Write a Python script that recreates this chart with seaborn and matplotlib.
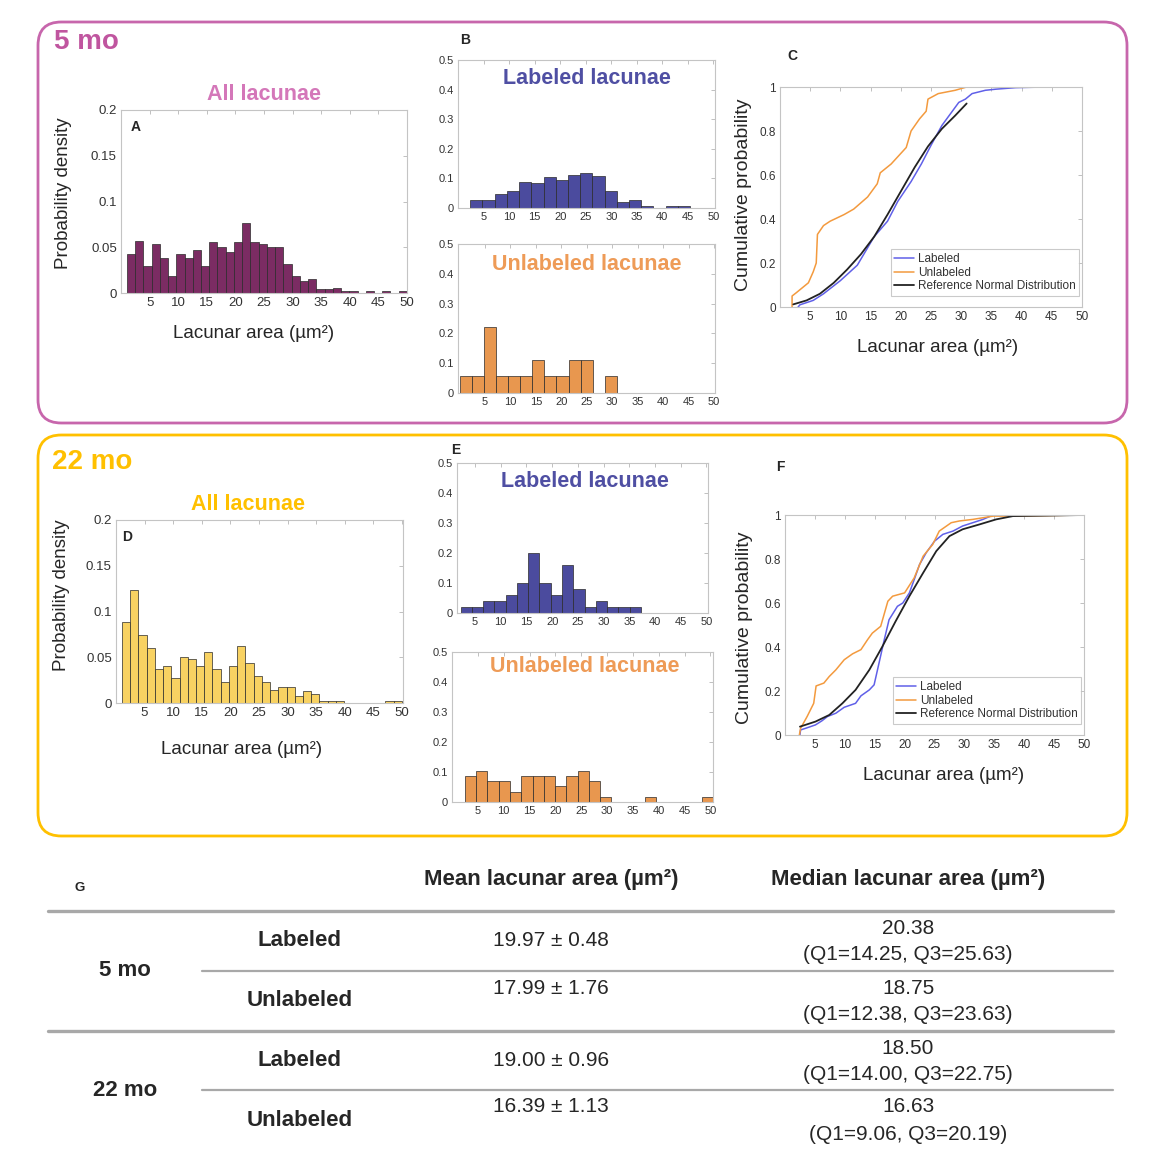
import numpy as np
import matplotlib
matplotlib.use("Agg")
import matplotlib.pyplot as plt
import seaborn as sns
from matplotlib.patches import FancyBboxPatch
from matplotlib.lines import Line2D

# ---- histogram heights (fraction per bin) ----
all_5mo = [0.043, 0.057, 0.030, 0.054, 0.038, 0.019, 0.043, 0.038, 0.047, 0.030,
           0.056, 0.050, 0.045, 0.056, 0.076, 0.056, 0.054, 0.050, 0.050, 0.032,
           0.019, 0.013, 0.015, 0.004, 0.004, 0.006, 0.002, 0.002, 0, 0.002,
           0, 0.002, 0, 0.002]
lab_5mo = [0.026, 0.026, 0.048, 0.056, 0.089, 0.083, 0.106, 0.094, 0.113, 0.119,
           0.109, 0.059, 0.020, 0.026, 0.006, 0, 0.006, 0.006]
unlab_5mo = [0.056, 0.056, 0.222, 0.056, 0.056, 0.056, 0.111, 0.056, 0.056, 0.111,
             0.111, 0, 0.056]
all_22mo = [0.088, 0.124, 0.074, 0.060, 0.037, 0.040, 0.027, 0.050, 0.048, 0.040,
            0.056, 0.037, 0.023, 0.040, 0.062, 0.044, 0.029, 0.023, 0.014, 0.018,
            0.017, 0.008, 0.013, 0.010, 0.002, 0.002, 0.002, 0, 0, 0,
            0, 0, 0.002, 0.002]
lab_22mo = [0.02, 0.02, 0.04, 0.04, 0.06, 0.10, 0.20, 0.10, 0.06, 0.16,
            0.08, 0.02, 0.04, 0.02, 0.02, 0.02]
unlab_22mo = [0.088, 0.105, 0.070, 0.070, 0.035, 0.088, 0.088, 0.088, 0.053, 0.088,
              0.105, 0.070, 0.018, 0, 0, 0, 0.018, 0, 0, 0, 0, 0.018]

# ---- cumulative curves (x = area, y = cumulative probability) ----
c5_lab_x = [3.0, 3.3, 5.5, 7.2, 10.0, 12.8, 15.6, 17.8, 19.5, 21.7, 23.4, 25.1, 26.8,
            28.4, 29.6, 30.7, 31.8, 34.0, 35.7, 39.0, 43.8]
c5_lab_y = [0.0, 0.01, 0.03, 0.06, 0.12, 0.19, 0.32, 0.39, 0.48, 0.57, 0.65, 0.74, 0.825,
            0.885, 0.93, 0.945, 0.97, 0.985, 0.99, 0.997, 1.0]
c5_unl_x = [2.0, 2.0, 2.7, 4.7, 5.5, 6.0, 6.2, 7.2, 8.3, 10.6, 12.2, 14.5, 16.1, 16.6,
            18.4, 20.9, 21.7, 23.1, 24.2, 24.5, 26.2, 29.0, 30.9]
c5_unl_y = [0.0, 0.05, 0.065, 0.11, 0.16, 0.2, 0.33, 0.37, 0.39, 0.42, 0.445, 0.5, 0.56,
            0.61, 0.65, 0.725, 0.8, 0.855, 0.89, 0.945, 0.97, 0.985, 1.0]
c5_ref_x = [2.2, 4.4, 6.6, 8.9, 11.1, 13.4, 15.6, 17.8, 20.1, 22.3, 24.5, 26.8, 29.0, 30.9]
c5_ref_y = [0.012, 0.03, 0.06, 0.11, 0.17, 0.24, 0.32, 0.42, 0.53, 0.635, 0.73, 0.81,
            0.87, 0.925]

c22_lab_x = [2.5, 2.6, 3.4, 5.1, 6.2, 7.1, 8.5, 9.9, 11.8, 12.7, 14.1, 14.9, 15.5, 16.6,
             17.4, 18.8, 19.7, 20.8, 21.6, 22.5, 23.6, 25.0, 26.4, 28.1, 29.7, 31.4,
             33.1, 34.8]
c22_lab_y = [0.0, 0.023, 0.03, 0.046, 0.065, 0.084, 0.099, 0.126, 0.144, 0.178, 0.205,
             0.228, 0.30, 0.433, 0.524, 0.585, 0.60, 0.646, 0.706, 0.775, 0.828, 0.881,
             0.912, 0.927, 0.95, 0.965, 0.98, 1.0]
c22_unl_x = [2.4, 2.6, 3.7, 4.8, 5.2, 6.5, 7.4, 8.5, 9.9, 11.3, 12.7, 13.8, 14.6, 16.0,
             17.2, 18.0, 20.0, 21.6, 23.1, 24.7, 25.8, 27.8, 29.2, 31.4, 34.8, 38.1, 50.0]
c22_unl_y = [0.0, 0.03, 0.084, 0.144, 0.223, 0.236, 0.266, 0.296, 0.342, 0.369, 0.388,
             0.433, 0.463, 0.494, 0.608, 0.631, 0.646, 0.714, 0.813, 0.866, 0.927,
             0.965, 0.973, 0.98, 0.995, 0.995, 1.0]
c22_ref_x = [2.5, 5.1, 7.4, 9.6, 11.8, 14.1, 16.3, 18.5, 20.8, 23.1, 25.3, 27.5, 29.7,
             32.5, 35.3, 38.1, 50.0]
c22_ref_y = [0.038, 0.061, 0.091, 0.144, 0.205, 0.296, 0.403, 0.517, 0.631, 0.737,
             0.836, 0.904, 0.935, 0.957, 0.98, 0.995, 1.0]

# ---- table G ----
groups = ["5 mo", "22 mo"]
kinds = ["Labeled", "Unlabeled"]
means = [19.97, 17.99, 19.00, 16.39]
sems = [0.48, 1.76, 0.96, 1.13]
medians = [20.38, 18.75, 18.50, 16.63]
q1s = [14.25, 12.38, 14.00, 9.06]
q3s = [25.63, 23.63, 22.75, 20.19]

W, H = 1164, 1167
sns.set_theme(style="white")
plt.rcParams["font.family"] = ["Liberation Sans", "DejaVu Sans"]

fig = plt.figure(figsize=(W / 100, H / 100), dpi=100)
fig.patch.set_facecolor("white")


def px(x, y):
    return x / W, 1 - y / H


def add_axes(left, top, right, bottom):
    return fig.add_axes([left / W, 1 - bottom / H, (right - left) / W, (bottom - top) / H])


def hist(ax, heights, start, width, color):
    edges = start + width * np.arange(len(heights) + 1)
    centers = (edges[:-1] + edges[1:]) / 2
    sns.histplot(x=list(centers), weights=list(heights), bins=edges.tolist(), ax=ax,
                 color=color, edgecolor="#2a2a2a", linewidth=0.5, alpha=1)


def style(ax, xlim, ylim, yticks, ylabels, size):
    ax.set_xlim(xlim)
    ax.set_ylim(ylim)
    ax.set_xticks(range(5, 51, 5))
    ax.set_yticks(yticks)
    ax.set_yticklabels(ylabels)
    ax.tick_params(direction="in", length=3, width=0.6, color="#b5b5b5", labelsize=size,
                   labelcolor="#333333", top=True, right=True, pad=3)
    for s in ax.spines.values():
        s.set_visible(True)
        s.set_color("#c4c4c4")
        s.set_linewidth(0.8)
    ax.set_xlabel("")
    ax.set_ylabel("")


def text(x, y, s, **kw):
    fig.text(*px(x, y), s, **kw)


# ---- group boxes ----
for top, col, lab in [(22, "#C766AC", "5 mo"), (435, "#FFC000", "22 mo")]:
    box = FancyBboxPatch(px(38, top + 401), 1089 / W, 401 / H,
                         boxstyle="round,pad=0,rounding_size=0.02",
                         transform=fig.transFigure, fill=False, edgecolor=col, linewidth=2)
    fig.add_artist(box)
text(54, 42, "5 mo", color="#C0559F", fontsize=20, fontweight="bold", va="center")
text(52, 462, "22 mo", color="#FFC000", fontsize=20, fontweight="bold", va="center")

dens_ticks = [0, 0.05, 0.1, 0.15, 0.2]
dens_labels = ["0", "0.05", "0.1", "0.15", "0.2"]
prob_ticks = [0, 0.1, 0.2, 0.3, 0.4, 0.5]
prob_labels = ["0", "0.1", "0.2", "0.3", "0.4", "0.5"]
cum_ticks = [0, 0.2, 0.4, 0.6, 0.8, 1]
cum_labels = ["0", "0.2", "0.4", "0.6", "0.8", "1"]
area_label = "Lacunar area (µm²)"

# ---- A ----
axA = add_axes(121, 110, 407, 293)
hist(axA, all_5mo, 1.03, 1.44, "#7B2C63")
style(axA, (0, 50), (0, 0.2), dens_ticks, dens_labels, 9.5)
text(264, 95, "All lacunae", color="#D477B9", fontsize=15.5, fontweight="bold", ha="center", va="center")
text(131, 127, "A", fontsize=10, fontweight="bold", va="center")
text(63, 193, "Probability density", fontsize=13.5, rotation=90, ha="center", va="center")
text(254, 333, area_label, fontsize=13.5, ha="center", va="center")

# ---- B ----
axB1 = add_axes(458, 60, 715, 208)
hist(axB1, lab_5mo, 2.4, 2.39, "#4B4B9E")
style(axB1, (0, 50.3), (0, 0.5), prob_ticks, prob_labels, 8)
axB2 = add_axes(458, 244, 715, 393)
hist(axB2, unlab_5mo, 0.0, 2.38, "#E8974F")
style(axB2, (-0.3, 50.2), (0, 0.5), prob_ticks, prob_labels, 8)
text(587, 78, "Labeled lacunae", color="#4F4FA3", fontsize=15.5, fontweight="bold", ha="center", va="center")
text(587, 264, "Unlabeled lacunae", color="#EE9B57", fontsize=15.5, fontweight="bold", ha="center", va="center")
text(460, 40, "B", fontsize=10, fontweight="bold", va="center")

# ---- D ----
axD = add_axes(116, 520, 403, 703)
hist(axD, all_22mo, 1.03, 1.44, "#F8D262")
style(axD, (0, 50.2), (0, 0.2), dens_ticks, dens_labels, 9.5)
text(248, 505, "All lacunae", color="#FFC000", fontsize=15.5, fontweight="bold", ha="center", va="center")
text(122, 537, "D", fontsize=10, fontweight="bold", va="center")
text(62, 595, "Probability density", fontsize=13.5, rotation=90, ha="center", va="center")
text(242, 750, area_label, fontsize=13.5, ha="center", va="center")

# ---- E ----
axE1 = add_axes(457, 463, 708, 613)
hist(axE1, lab_22mo, 2.2, 2.19, "#4B4B9E")
style(axE1, (1.5, 50.3), (0, 0.5), prob_ticks, prob_labels, 8)
axE2 = add_axes(452, 652, 713, 802)
hist(axE2, unlab_22mo, 2.5, 2.18, "#E8974F")
style(axE2, (0, 50.5), (0, 0.5), prob_ticks, prob_labels, 8)
text(585, 482, "Labeled lacunae", color="#4F4FA3", fontsize=15.5, fontweight="bold", ha="center", va="center")
text(585, 667, "Unlabeled lacunae", color="#EE9B57", fontsize=15.5, fontweight="bold", ha="center", va="center")
text(451, 450, "E", fontsize=10, fontweight="bold", va="center")


# ---- C and F ----
def cdf_panel(ax, lab, unl, ref):
    sns.lineplot(x=lab[0], y=lab[1], ax=ax, color="#6060E8", linewidth=1.1, estimator=None, sort=False, label="Labeled")
    sns.lineplot(x=unl[0], y=unl[1], ax=ax, color="#F39A3E", linewidth=1.1, estimator=None, sort=False, label="Unlabeled")
    sns.lineplot(x=ref[0], y=ref[1], ax=ax, color="#222222", linewidth=1.3, estimator=None, sort=False,
                 label="Reference Normal Distribution")
    style(ax, (0, 50), (0, 1), cum_ticks, cum_labels, 8.5)
    leg = ax.legend(loc="lower right", bbox_to_anchor=(0.99, 0.05), fontsize=8.5, frameon=True,
                    fancybox=False, borderpad=0.3, labelspacing=0.15, handlelength=1.7,
                    handletextpad=0.3, borderaxespad=0)
    leg.get_frame().set_edgecolor("#bdbdbd")
    leg.get_frame().set_linewidth(0.8)
    for t in leg.get_texts():
        t.set_color("#333333")


axC = add_axes(780, 87, 1082, 307)
cdf_panel(axC, (c5_lab_x, c5_lab_y), (c5_unl_x, c5_unl_y), (c5_ref_x, c5_ref_y))
text(787, 56, "C", fontsize=10, fontweight="bold", va="center")
text(743, 195, "Cumulative probability", fontsize=14, rotation=90, ha="center", va="center")
text(938, 347, area_label, fontsize=13.5, ha="center", va="center")

axF = add_axes(785, 515, 1084, 735)
cdf_panel(axF, (c22_lab_x, c22_lab_y), (c22_unl_x, c22_unl_y), (c22_ref_x, c22_ref_y))
text(776, 467, "F", fontsize=10, fontweight="bold", va="center")
text(745, 628, "Cumulative probability", fontsize=14, rotation=90, ha="center", va="center")
text(944, 775, area_label, fontsize=13.5, ha="center", va="center")

# ---- G table ----
text(75, 888, "G", fontsize=9.5, fontweight="bold", va="center")
text(551, 880, "Mean lacunar area (µm²)", fontsize=16, fontweight="bold", ha="center", va="center")
text(908, 880, "Median lacunar area (µm²)", fontsize=16, fontweight="bold", ha="center", va="center")

for yl, x0, lw in [(911, 48, 2.4), (971, 202, 1.6), (1031, 48, 2.4), (1090, 202, 1.6)]:
    fig.add_artist(Line2D([x0 / W, 1113 / W], [1 - yl / H, 1 - yl / H], color="#a8a8a8",
                          linewidth=lw, transform=fig.transFigure))

row_mid = [941, 1001, 1061, 1120]
row_top = [941, 988, 1061, 1107]
for g, grp in enumerate(groups):
    text(125, 971 + 119 * g, grp, fontsize=16, fontweight="bold", ha="center", va="center")
for i in range(4):
    text(300, row_mid[i], kinds[i % 2], fontsize=16, fontweight="bold", ha="center", va="center")
    text(551, row_top[i], f"{means[i]:.2f} ± {sems[i]:.2f}", fontsize=15, ha="center", va="center")
    med_y = row_top[i] - 13 if i % 2 == 0 else row_top[i]
    text(908, med_y, f"{medians[i]:.2f}", fontsize=15, ha="center", va="center")
    text(908, med_y + 27, f"(Q1={q1s[i]:.2f}, Q3={q3s[i]:.2f})", fontsize=15, ha="center", va="center")

fig.savefig("out.png", dpi=100)
